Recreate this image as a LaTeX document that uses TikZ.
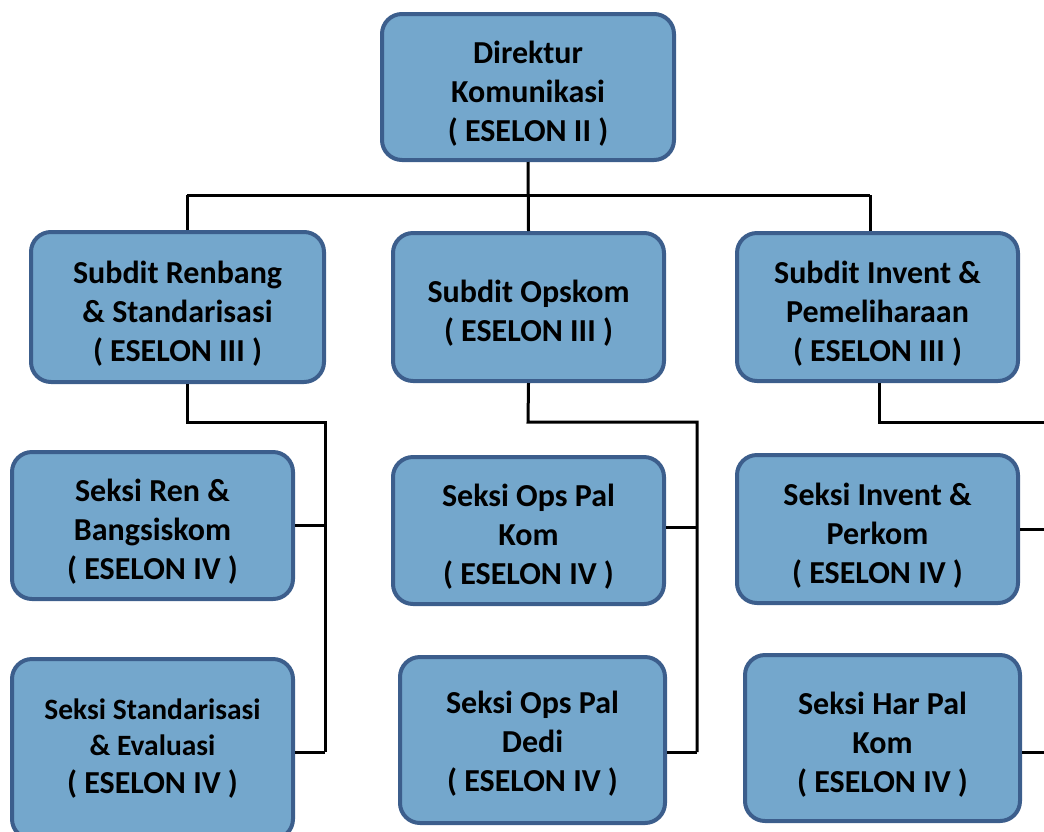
\documentclass[tikz,border=0pt]{standalone}
\usepackage{fontspec}
\setmainfont{Carlito}
\usepackage{xcolor}
\usetikzlibrary{positioning}

\definecolor{boxfill}{RGB}{116,167,204}
\definecolor{boxedge}{RGB}{60,94,140}

\newcommand{\topstrut}[1][35pt]{\rule{0pt}{#1}}

\begin{document}
\begin{tikzpicture}[
    x=1pt,y=-1pt,
    every node/.style={align=center},
    unit/.style={
        rounded corners=20pt,
        draw=boxedge,
        fill=boxfill,
        line width=4pt,
        inner sep=0pt,
        font=\bfseries\fontsize{32}{39}\selectfont
    },
    link/.style={line width=3pt,black}
]
\useasboundingbox (0,0) rectangle (1044,831);

% Eselon II
\node[unit, minimum width=292, minimum height=146] (dir) at (528,87)
{\topstrut Direktur\\Komunikasi\\( ESELON II )};

% Eselon III
\node[unit, minimum width=293, minimum height=150] (renbang) at (177.5,307)
{\topstrut Subdit Renbang\\\& Standarisasi\\( ESELON III )};

\node[unit, minimum width=271, minimum height=148] (opskom) at (528.5,307)
{\topstrut Subdit Opskom\\( ESELON III )};

\node[unit, minimum width=281, minimum height=148] (invent) at (877.5,307)
{\topstrut Subdit Invent \&\\Pemeliharaan\\( ESELON III )};

% Eselon IV
\node[unit, minimum width=281, minimum height=147] (ren) at (152.5,525.5)
{\topstrut Seksi Ren \&\\Bangsiskom\\( ESELON IV )};

\node[unit, minimum width=281, minimum height=180, font=\bfseries\fontsize{29.5}{36}\selectfont] (stand) at (152.5,749)
{Seksi Standarisasi\\\& Evaluasi\\[2pt]\fontsize{32}{39}\selectfont( ESELON IV )};

\node[unit, minimum width=271, minimum height=147] (opspal) at (528.5,530.5)
{\topstrut Seksi Ops Pal\\Kom\\( ESELON IV )};

\node[unit, minimum width=265, minimum height=166] (dedi) at (532.5,740)
{\topstrut[29pt]Seksi Ops Pal\\Dedi\\( ESELON IV )};

\node[unit, minimum width=281, minimum height=148] (perkom) at (877.5,529)
{\topstrut Seksi Invent \&\\Perkom\\( ESELON IV )};

\node[unit, minimum width=275, minimum height=166] (harpal) at (882.5,738)
{\topstrut Seksi Har Pal\\Kom\\( ESELON IV )};

% Top bus
\coordinate (busL) at (187,195);
\coordinate (busR) at (870,195);
\draw[link] (dir.south) -- (opskom.north);
\draw[link] (busL) -- (busR);
\draw[link] (busL) -- (busL |- renbang.north);
\draw[link] (busR) -- (busR |- invent.north);

% Renbang branch
\coordinate (dropA) at (187,422);
\coordinate (railA) at (325,422);
\coordinate (endA) at (325,752);
\draw[link] (dropA |- renbang.south) -- (dropA) -- (railA) -- (endA);
\draw[link] (ren.east) -- (ren.east -| railA);
\draw[link] (endA) -- (endA -| stand.east);

% Opskom branch
\coordinate (dropB) at (528,422);
\coordinate (railB) at (697,422);
\coordinate (endB) at (697,752);
\draw[link] (opskom.south) -- (dropB) -- (railB) -- (endB);
\draw[link] ([yshift=3pt]opspal.east) -- ([yshift=3pt]opspal.east -| railB);
\draw[link] (endB) -- (endB -| dedi.east);

% Invent branch
\coordinate (dropC) at (879,422);
\coordinate (railC) at (1050,422);
\coordinate (endC) at (1050,752);
\draw[link] (dropC |- invent.south) -- (dropC) -- (railC);
\draw[link] (perkom.east) -- (perkom.east -| railC);
\draw[link] (endC -| harpal.east) -- (endC);

\end{tikzpicture}
\end{document}
